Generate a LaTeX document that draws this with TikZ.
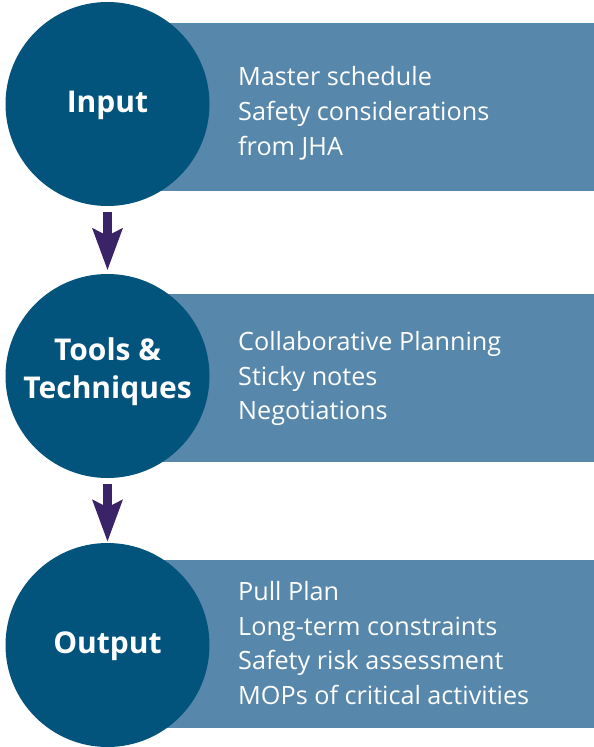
\documentclass[tikz,border=0pt]{standalone}
\usepackage{fontspec}
\setmainfont{Open Sans}
\usetikzlibrary{arrows.meta}
\definecolor{circleblue}{RGB}{3,84,124}
\definecolor{panelblue}{RGB}{87,135,171}
\definecolor{arrowpurple}{RGB}{59,35,104}
\begin{document}
\begin{tikzpicture}[x=1pt,y=-1pt,
  stage/.style={circle, fill=circleblue, draw=none, minimum size=204pt, inner sep=0pt},
  stagelabel/.style={text=white, align=center, inner sep=0pt,
    font=\bfseries\fontsize{30}{38}\selectfont},
  panel/.style={rectangle, fill=panelblue, draw=none, anchor=west,
    minimum width=487pt, minimum height=168pt, inner sep=0pt},
  items/.style={anchor=west, text=white, align=left, inner sep=0pt,
    font=\fontsize{25.2}{34.8}\selectfont},
  flow/.style={draw=arrowpurple, line width=9pt,
    -{Stealth[length=42pt, width=31pt, inset=8pt, line width=0pt]}}]
  \useasboundingbox (0,0) rectangle (594,747);

  % panels behind the circles
  \node[panel] (p1) at (107,107) {};
  \node[panel] (p2) at (107,378) {};
  \node[panel] (p3) at (107,644) {};

  % panel contents
  \node[items] (t1) at (238,113.5) {Master schedule\\Safety considerations\\from JHA};
  \node[items] (t2) at (238,378.5) {Collaborative Planning\\Sticky notes\\Negotiations};
  \node[items] (t3) at (238,643) {Pull Plan\\Long-term constraints\\Safety risk assessment\\MOPs of critical activities};

  % stage circles
  \node[stage] (c1) at (107.5,104) {};
  \node[stage] (c2) at (107.5,376) {};
  \node[stage] (c3) at (107.5,645) {};

  % stage names
  \node[stagelabel] (l1) at ([yshift=-1pt]c1.center) {Input};
  \node[stagelabel] (l2) at ([yshift=4.5pt]c2.center) {Tools \&\\Techniques};
  \node[stagelabel] (l3) at ([yshift=-1.5pt]c3.center) {Output};

  % arrows between stages
  \draw[flow] ([yshift=-6pt]c1.south) -- ([yshift=4pt]c2.north);
  \draw[flow] ([yshift=-6pt]c2.south) -- ([yshift=1.5pt]c3.north);
\end{tikzpicture}
\end{document}
